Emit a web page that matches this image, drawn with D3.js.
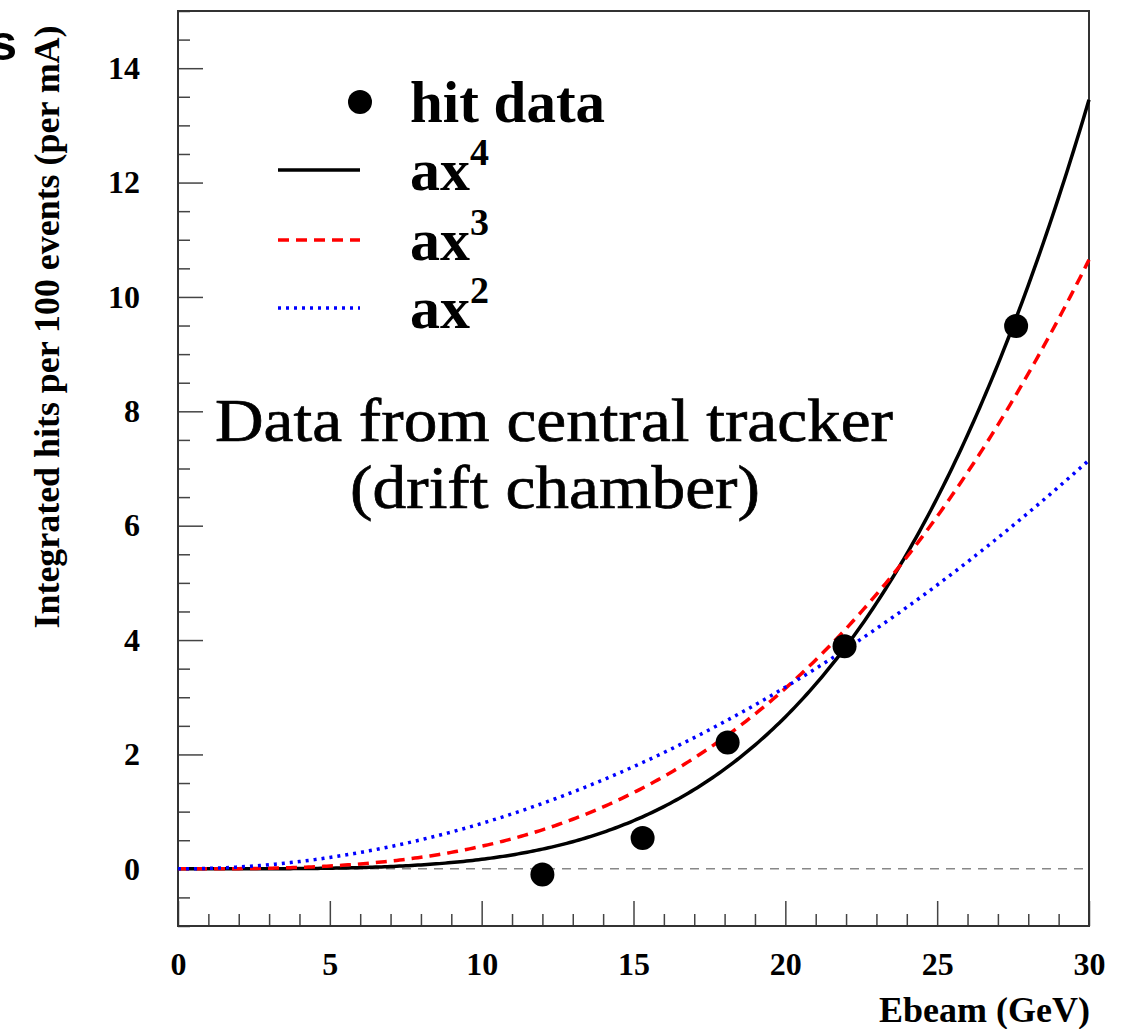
<!DOCTYPE html>
<html>
<head>
<meta charset="utf-8">
<script src="https://cdn.jsdelivr.net/npm/d3@7"></script>
<style>
  html, body { margin: 0; padding: 0; background: #fff; }
  svg { display: block; }
  .tick text { font-family: "Liberation Serif", "Times New Roman", serif; font-weight: bold; }
</style>
</head>
<body>
<svg id="chart" width="1121" height="1029"></svg>
<script>
// ---- data ----
const hitEnergy = [12.0, 15.3, 18.1, 21.95, 27.6];      // Ebeam (GeV)
const hitValues = [-0.1, 0.54, 2.21, 3.89, 9.49];      // integrated hits per 100 events (per mA)
const fitPowers = [4, 3, 2];
const fitCoefficients = [1.66e-5, 3.944e-4, 7.94e-3];  // fitted a for a*x^n
const fitColors = ["#000000", "#ff0000", "#0000ff"];
const fitDashes = [null, "11,7", "3,5"];
const xMajorTicks = [0, 5, 10, 15, 20, 25, 30];
const yMajorTicks = [0, 2, 4, 6, 8, 10, 12, 14];
const xDomain = [0, 30];
const yDomain = [-1, 15];

(function () {
const svg = d3.select("#chart");
const fLeft = 178, fRight = 1089, fTop = 11, fBottom = 926;

const x = d3.scaleLinear().domain(xDomain).range([fLeft, fRight]);
const y = d3.scaleLinear().domain(yDomain).range([fBottom, fTop]);

const serif = '"Liberation Serif", "Times New Roman", serif';

// minor ticks
const xMinor = d3.range(0, 30.001, 1).filter(v => v % 5 !== 0);
const yMinor = d3.range(-1, 15.001, 0.5).filter(v => v % 2 !== 0);

svg.append("g").attr("transform", `translate(0,${fBottom})`)
  .call(d3.axisBottom(x).tickValues(xMinor).tickSize(-12).tickFormat(""))
  .call(g => g.select(".domain").remove())
  .call(g => g.selectAll("line").attr("stroke", "#444").attr("stroke-width", 1.5));
svg.append("g").attr("transform", `translate(${fLeft},0)`)
  .call(d3.axisLeft(y).tickValues(yMinor).tickSize(-12).tickFormat(""))
  .call(g => g.select(".domain").remove())
  .call(g => g.selectAll("line").attr("stroke", "#444").attr("stroke-width", 1.5));

// major ticks + labels
svg.append("g").attr("transform", `translate(0,${fBottom})`)
  .call(d3.axisBottom(x).tickValues(xMajorTicks).tickSize(-25).tickPadding(26).tickFormat(d3.format("d")))
  .call(g => g.select(".domain").remove())
  .call(g => g.selectAll("line").attr("stroke", "#444").attr("stroke-width", 1.5))
  .call(g => g.selectAll("text").attr("font-size", 32).attr("fill", "#000"));
svg.append("g").attr("transform", `translate(${fLeft},0)`)
  .call(d3.axisLeft(y).tickValues(yMajorTicks).tickSize(-25).tickPadding(38).tickFormat(d3.format("d")))
  .call(g => g.select(".domain").remove())
  .call(g => g.selectAll("line").attr("stroke", "#444").attr("stroke-width", 1.5))
  .call(g => g.selectAll("text").attr("font-size", 32).attr("fill", "#000"));

// frame
svg.append("rect").attr("x", fLeft).attr("y", fTop)
  .attr("width", fRight - fLeft).attr("height", fBottom - fTop)
  .attr("fill", "none").attr("stroke", "#333").attr("stroke-width", 2);

// zero line
svg.append("line").attr("x1", x(0)).attr("x2", x(30)).attr("y1", y(0)).attr("y2", y(0))
  .attr("stroke", "#888").attr("stroke-width", 1.5).attr("stroke-dasharray", "9,7");

// fit curves
const line = d3.line().x(d => x(d[0])).y(d => y(d[1]));
const samples = d3.range(0, 30.0001, 0.1);
fitPowers.forEach((p, i) => {
  const pts = samples.map(e => [e, fitCoefficients[i] * Math.pow(e, p)]);
  svg.append("path").datum(pts).attr("d", line)
    .attr("fill", "none").attr("stroke", fitColors[i]).attr("stroke-width", 3.5)
    .attr("stroke-dasharray", fitDashes[i]);
});

// data points
svg.append("g").selectAll("circle").data(hitEnergy).join("circle")
  .attr("cx", d => x(d)).attr("cy", (d, i) => y(hitValues[i])).attr("r", 12).attr("fill", "#000");

// legend
const lg = svg.append("g");
lg.append("circle").attr("cx", 360).attr("cy", 102).attr("r", 12).attr("fill", "#000");
lg.append("text").attr("x", 410).attr("y", 122).attr("font-family", serif).attr("font-weight", "bold")
  .attr("font-size", 59).text("hit data");
const legendRows = [170, 240, 308];
const legendBase = [190, 260, 328];
fitPowers.forEach((p, i) => {
  lg.append("line").attr("x1", 278).attr("x2", 360).attr("y1", legendRows[i]).attr("y2", legendRows[i])
    .attr("stroke", fitColors[i]).attr("stroke-width", 3.5).attr("stroke-dasharray", fitDashes[i]);
  const t = lg.append("text").attr("x", 410).attr("y", legendBase[i]).attr("font-family", serif)
    .attr("font-weight", "bold").attr("font-size", 60);
  t.append("tspan").text("ax");
  t.append("tspan").attr("font-size", 38).attr("dy", -25).text(String(p));
});

// annotation
svg.append("text").attr("x", 554).attr("y", 441).attr("text-anchor", "middle")
  .attr("font-family", serif).attr("font-size", 62)
  .attr("stroke", "#000").attr("stroke-width", 0.7)
  .attr("textLength", 678).attr("lengthAdjust", "spacingAndGlyphs")
  .text("Data from central tracker");
svg.append("text").attr("x", 555).attr("y", 508).attr("text-anchor", "middle")
  .attr("font-family", serif).attr("font-size", 62)
  .attr("stroke", "#000").attr("stroke-width", 0.7)
  .attr("textLength", 410).attr("lengthAdjust", "spacingAndGlyphs")
  .text("(drift chamber)");

// axis titles
svg.append("text").attr("transform", "translate(59,327) rotate(-90)").attr("text-anchor", "middle")
  .attr("font-family", serif).attr("font-weight", "bold").attr("font-size", 35)
  .attr("textLength", 603).attr("lengthAdjust", "spacingAndGlyphs")
  .text("Integrated hits per 100 events (per mA)");
svg.append("text").attr("x", 1090).attr("y", 1022).attr("text-anchor", "end")
  .attr("font-family", serif).attr("font-weight", "bold").attr("font-size", 36)
  .text("Ebeam (GeV)");

// clipped title fragment at top-left
svg.append("text").attr("x", 17).attr("y", 60).attr("text-anchor", "end")
  .attr("font-family", '"Liberation Sans", Arial, sans-serif').attr("font-weight", "bold")
  .attr("font-size", 50).text("s");
})();
</script>
</body>
</html>
